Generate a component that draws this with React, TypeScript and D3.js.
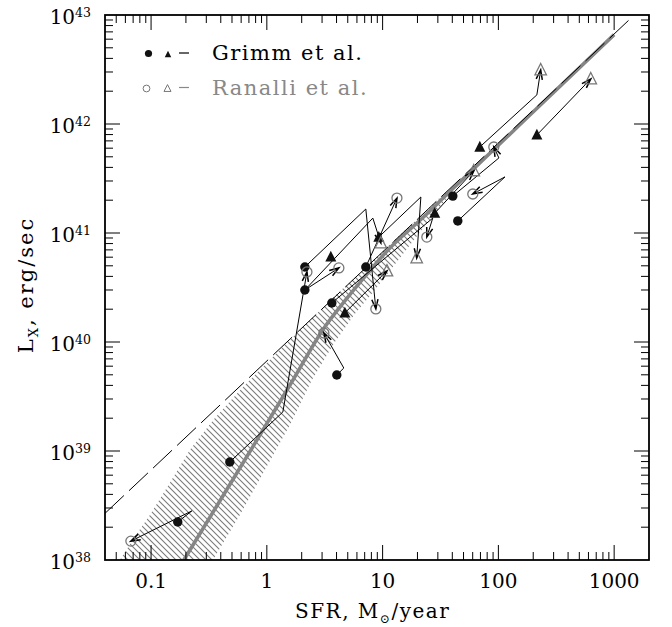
import React from "react";
import * as d3 from "d3";

// ---------------- data ----------------
const xDomain: [number, number] = [0.04, 2000];
const yDomain: [number, number] = [1e38, 1e43];
const xTickValues = [0.1, 1, 10, 100, 1000];
const xTickLabels = ["0.1", "1", "10", "100", "1000"];
const yTickValues = [1e38, 1e39, 1e40, 1e41, 1e42, 1e43];
const yTickExponents = ["38", "39", "40", "41", "42", "43"];

// linear relation Lx = 6.7e39 * SFR (dashed)
const linearCoef = 6.7e39;
const linearSfr = [0.04, 1400];

// predicted relation (thick grey)
const predSfr = [0.192, 0.82, 1.68, 3.04, 4.91, 7.3, 11.5, 22.2, 38.1, 1000];
const predLx = [1.0e38, 1.26e39, 4.47e39, 1.29e40, 2.51e40, 4.17e40, 7.24e40, 1.38e41, 2.4e41, 6.61e42];

// dispersion band (hatched)
const bandUpperSfr = [0.0538, 0.0724, 0.0977, 0.145, 0.216, 0.356, 0.646, 1.17, 2.13, 3.87, 7.02, 12.7, 23.1, 36.6];
const bandUpperLx = [1.0e38, 1.63e38, 2.59e38, 5.08e38, 1.02e39, 2.01e39, 4.04e39, 7.6e39, 1.43e40, 2.64e40, 4.78e40, 8.63e40, 1.56e41, 2.48e41];
const bandLowerSfr = [0.342, 0.585, 0.961, 1.58, 2.45, 3.87, 5.75, 8.56, 14.1, 23.1, 36.6];
const bandLowerLx = [1.0e38, 2.59e38, 6.7e38, 1.73e39, 4.48e39, 1.0e40, 1.81e40, 3.0e40, 5.9e40, 1.16e41, 2.14e41];

// galaxies [SFR, Lx]
const grimmCircles: [number, number][] = [
  [0.17, 2.23e38], [0.479, 7.93e38], [2.13, 4.88e40], [2.13, 3.0e40], [3.64, 2.28e40],
  [4.02, 4.98e39], [7.16, 4.88e40], [40.4, 2.18e41], [44.6, 1.29e41],
];
const grimmTriangles: [number, number][] = [
  [3.57, 6.03e40], [4.72, 1.85e40], [9.27, 9.18e40], [28.2, 1.52e41], [69.1, 6.15e41], [215, 7.93e41],
];
const ranalliCircles: [number, number][] = [
  [0.0669, 1.49e38], [2.22, 4.39e40], [4.19, 4.78e40], [3.11, 1.21e40], [8.74, 2.01e40],
  [13.3, 2.09e41], [24.1, 9.18e40], [60.1, 2.28e41], [91.3, 6.15e41],
];
const ranalliTriangles: [number, number][] = [
  [9.65, 8.09e40], [10.9, 4.48e40], [19.7, 5.9e40], [61.3, 3.71e41], [232, 3.13e42], [628, 2.59e42],
];

// connections: [from group, index, bend point or null, to group, index]
type Link = [string, number, [number, number] | null, string, number];
const links: Link[] = [
  ["gc", 0, [0.225, 2.82e38], "rc", 0],
  ["gc", 1, [1.375, 2.28e39], "rc", 1],
  ["gc", 2, [7.16, 1.66e41], "rc", 4],
  ["gc", 3, null, "rc", 2],
  ["gc", 3, [8.23, 1.37e41], "rt", 0],
  ["gc", 5, [4.62, 5.77e39], "rc", 3],
  ["gc", 6, null, "rc", 5],
  ["gc", 4, [27.1, 1.37e41], "rc", 6],
  ["gt", 1, null, "rt", 1],
  ["gt", 2, [21.4, 2.14e41], "rt", 2],
  ["gt", 3, null, "rt", 3],
  ["gc", 7, [101, 4.88e41], "rc", 8],
  ["gc", 8, [114, 3.27e41], "rc", 7],
  ["gt", 4, [215, 1.85e42], "rt", 4],
  ["gt", 5, null, "rt", 5],
];

const legendItems = ["Grimm et al.", "Ranalli et al."];

// ---------------- component ----------------
const FONT = "'DejaVu Serif', serif";
const GREY = "#888";

function tri(cx: number, cy: number, s: number) {
  return `M${cx},${cy - s * 0.56}L${cx + s / 2},${cy + s * 0.42}L${cx - s / 2},${cy + s * 0.42}Z`;
}

export default function App() {
  const left = 105, right = 649, top = 15, bottom = 560;
  const x = d3.scaleLog().domain(xDomain).range([left, right]);
  const y = d3.scaleLog().domain(yDomain).range([bottom, top]);
  const P = (d: [number, number]): [number, number] => [x(d[0]), y(d[1])];
  const lineGen = d3.line<[number, number]>();

  const predPath = d3
    .line<[number, number]>()
    .curve(d3.curveCatmullRom.alpha(0.5))(predSfr.map((s, i) => P([s, predLx[i]])));
  const bandPts: [number, number][] = [
    ...bandUpperSfr.map((s, i) => P([s, bandUpperLx[i]])),
    ...bandLowerSfr.map((s, i) => P([s, bandLowerLx[i]])).reverse(),
  ];
  const bandPath = lineGen(bandPts) + "Z";
  const linPath = lineGen(linearSfr.map((s) => P([s, s * linearCoef])));

  const groups: Record<string, [number, number][]> = {
    gc: grimmCircles, gt: grimmTriangles, rc: ranalliCircles, rt: ranalliTriangles,
  };

  const linkEls = links.map((lk, i) => {
    const pts: [number, number][] = [P(groups[lk[0]][lk[1]])];
    if (lk[2]) pts.push(P(lk[2]));
    pts.push(P(groups[lk[3]][lk[4]]));
    const a = pts[pts.length - 2], b = pts[pts.length - 1];
    const ang = Math.atan2(b[1] - a[1], b[0] - a[0]);
    const len = 10, da = (18 * Math.PI) / 180;
    const b1 = [b[0] - len * Math.cos(ang - da), b[1] - len * Math.sin(ang - da)];
    const b2 = [b[0] - len * Math.cos(ang + da), b[1] - len * Math.sin(ang + da)];
    return (
      <g key={"l" + i}>
        <path d={lineGen(pts) || ""} fill="none" stroke="#000" strokeWidth={1} />
        <path d={`M${b1[0]},${b1[1]}L${b[0]},${b[1]}L${b2[0]},${b2[1]}`} fill="none" stroke="#000" strokeWidth={1.5} />
      </g>
    );
  });

  // ticks
  const xTicks: { v: number; major: boolean }[] = [];
  for (let e = -2; e <= 3; e++)
    for (let m = 1; m <= 9; m++) {
      const v = m * Math.pow(10, e);
      if (v > xDomain[0] * 1.001 && v < xDomain[1] * 0.999) xTicks.push({ v, major: m === 1 });
    }
  const yTicks: { v: number; major: boolean }[] = [];
  for (let e = 38; e <= 42; e++)
    for (let m = 1; m <= 9; m++) {
      const v = m * Math.pow(10, e);
      if (v > yDomain[0] * 1.001 && v < yDomain[1] * 0.999) yTicks.push({ v, major: m === 1 });
    }
  const tl = (maj: boolean) => (maj ? 15 : 8);

  return (
    <svg width={672} height={627} style={{ display: "block", position: "absolute", left: 0, top: 0, background: "#fff" }}>
      <defs>
        <clipPath id="plot">
          <rect x={left} y={top} width={right - left} height={bottom - top} />
        </clipPath>
        <pattern id="hatch" patternUnits="userSpaceOnUse" width={6} height={6}>
          <path d="M-1,-1L7,7M5,-1L7,1M-1,5L1,7" stroke="#7a7a7a" strokeWidth={1.1} />
        </pattern>
      </defs>
      <rect x={0} y={0} width={672} height={627} fill="#fff" />
      <g clipPath="url(#plot)">
        <path d={bandPath} fill="url(#hatch)" stroke="none" />
        <path d={predPath || ""} fill="none" stroke="#858585" strokeWidth={3.6} />
        <path d={linPath || ""} fill="none" stroke="#000" strokeWidth={1} strokeDasharray="26 7" />
        {linkEls}
        {grimmCircles.map((d, i) => {
          const [cx, cy] = P(d);
          return <circle key={"gc" + i} cx={cx} cy={cy} r={4.7} fill="#111" />;
        })}
        {grimmTriangles.map((d, i) => {
          const [cx, cy] = P(d);
          return <path key={"gt" + i} d={tri(cx, cy, 11)} fill="#111" />;
        })}
        {ranalliCircles.map((d, i) => {
          const [cx, cy] = P(d);
          return <circle key={"rc" + i} cx={cx} cy={cy} r={5} fill="none" stroke="#777" strokeWidth={1.3} />;
        })}
        {ranalliTriangles.map((d, i) => {
          const [cx, cy] = P(d);
          return <path key={"rt" + i} d={tri(cx, cy, 11.5)} fill="none" stroke="#777" strokeWidth={1.3} />;
        })}
      </g>

      {/* ticks */}
      <g stroke="#000" strokeWidth={1}>
        {xTicks.map((t, i) => (
          <g key={"xt" + i}>
            <line x1={x(t.v)} x2={x(t.v)} y1={bottom} y2={bottom - tl(t.major)} />
            <line x1={x(t.v)} x2={x(t.v)} y1={top} y2={top + tl(t.major)} />
          </g>
        ))}
        {yTicks.map((t, i) => (
          <g key={"yt" + i}>
            <line x1={left} x2={left + tl(t.major)} y1={y(t.v)} y2={y(t.v)} />
            <line x1={right} x2={right - tl(t.major)} y1={y(t.v)} y2={y(t.v)} />
          </g>
        ))}
      </g>
      <rect x={left} y={top} width={right - left} height={bottom - top} fill="none" stroke="#000" strokeWidth={1.8} />

      {/* tick labels */}
      <g fontFamily={FONT} fill="#000">
        {xTickValues.map((v, i) => (
          <text key={"xl" + i} x={x(v)} y={588} fontSize={20} textAnchor="middle">
            {xTickLabels[i]}
          </text>
        ))}
        {yTickValues.map((v, i) => (
          <text key={"yl" + i} x={91} y={y(v) + 9} fontSize={20} textAnchor="end">
            <tspan>10</tspan>
            <tspan dy={-7} fontSize={12.5}>{yTickExponents[i]}</tspan>
          </text>
        ))}
      </g>

      {/* axis titles */}
      <text x={295} y={618} fontFamily={FONT} fontSize={20} letterSpacing={1.5} fill="#000">
        SFR, M<tspan fontSize={12} dy={5}>⊙</tspan>
        <tspan dy={-5}>/year</tspan>
      </text>
      <text
        transform="translate(33,285) rotate(-90)"
        fontFamily={FONT}
        fontSize={21}
        letterSpacing={2}
        textAnchor="middle"
        fill="#000"
      >
        L<tspan fontSize={13} dy={5}>X</tspan>
        <tspan dy={-5}>, erg/sec</tspan>
      </text>

      {/* legend */}
      <circle cx={148.5} cy={53.5} r={3.6} fill="#111" />
      <path d={tri(168, 54.5, 6.5)} fill="#111" />
      <line x1={179} x2={189} y1={53} y2={53} stroke="#000" strokeWidth={1.2} />
      <text x={212} y={60} fontFamily={FONT} fontSize={21} letterSpacing={1.5} fill="#000">
        {legendItems[0]}
      </text>
      <circle cx={146.5} cy={88.5} r={3.4} fill="none" stroke="#777" strokeWidth={1} />
      <path d={tri(167.5, 88.5, 7)} fill="none" stroke="#777" strokeWidth={1} />
      <line x1={179} x2={189} y1={87.5} y2={87.5} stroke={GREY} strokeWidth={1.2} />
      <text x={212} y={95} fontFamily={FONT} fontSize={21} letterSpacing={1.5} fill={GREY}>
        {legendItems[1]}
      </text>
    </svg>
  );
}
